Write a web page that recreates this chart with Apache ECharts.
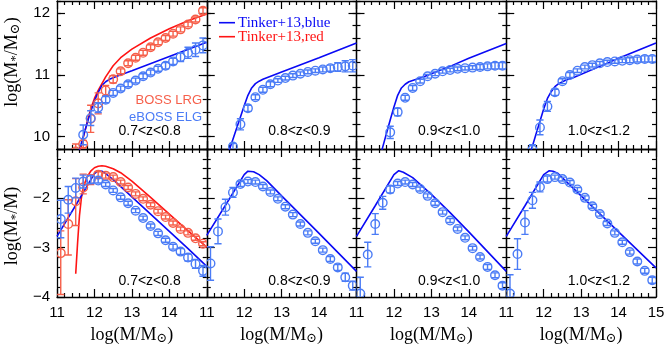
<!DOCTYPE html>
<html><head><meta charset="utf-8">
<script src="https://cdn.jsdelivr.net/npm/echarts@6/dist/echarts.min.js"></script>
<style>html,body{margin:0;padding:0;background:#fff}#c{width:665px;height:345px}</style>
</head><body><div id="c"></div>
<script>
// ---------------- DATA ----------------
const massBins = [11.1,11.3,11.5,11.7,11.9,12.1,12.3,12.5,12.7,12.9,13.1,13.3,13.5,13.7,13.9,14.1,14.3,14.5,14.7,14.9];
const xTicks = [11,12,13,14,15];
const yTicksTop = [10,11,12];
const yTicksBottom = [-4,-3,-2,-1];
const zLabels = ['0.7<z<0.8','0.8<z<0.9','0.9<z<1.0','1.0<z<1.2'];

// top row: log(M*/Msun) vs log(M/Msun)
const elgMstarZ1 = [null,null,null,10.03,10.30,10.47,10.60,10.71,10.78,10.85,10.91,10.98,11.04,11.10,11.15,11.22,11.29,11.36,11.41,11.48];
const elgMstarErrZ1 = [0,0,0,0.16,0.12,0.08,0.05,0.04,0.04,0.04,0.04,0.04,0.04,0.04,0.05,0.05,0.07,0.09,0.11,0.12];
const lrgMstarZ1 = [null,null,9.76,9.88,10.29,10.54,10.75,10.93,11.06,11.19,11.28,11.36,11.45,11.53,11.60,11.67,11.74,11.82,11.90,12.04];
const lrgMstarErrZ1 = [0,0,0.12,0.06,0.22,0.17,0.08,0.06,0.04,0.04,0.04,0.04,0.04,0.04,0.04,0.04,0.04,0.04,0.04,0.05];
const elgMstarZ2 = [null,null,null,9.84,10.20,10.46,10.64,10.76,10.85,10.91,10.95,10.99,11.02,11.05,11.07,11.09,11.11,11.13,11.14,11.15];
const elgMstarErrZ2 = [0,0,0,0.05,0.09,0.05,0.04,0.04,0.04,0.03,0.03,0.03,0.03,0.03,0.03,0.04,0.05,0.07,0.09,0.10];
const elgMstarZ3 = [null,null,null,null,10.07,10.40,10.63,10.79,10.90,10.98,11.02,11.06,11.08,11.10,11.11,11.12,11.13,11.14,11.15,11.15];
const elgMstarErrZ3 = [0,0,0,0,0.10,0.06,0.04,0.04,0.03,0.03,0.03,0.03,0.03,0.03,0.03,0.03,0.04,0.04,0.05,0.05];
const elgMstarZ4 = [null,null,null,9.79,10.15,10.49,10.72,10.90,11.00,11.07,11.13,11.16,11.19,11.21,11.22,11.23,11.24,11.25,11.26,11.26];
const elgMstarErrZ4 = [0,0,0,0.08,0.12,0.08,0.05,0.04,0.04,0.03,0.03,0.03,0.03,0.03,0.03,0.03,0.04,0.04,0.05,0.05];

// bottom row: log(M*/M) vs log(M/Msun)
const elgRatioZ1 = [-2.42,-2.03,-1.79,-1.66,-1.62,-1.64,-1.72,-1.84,-1.98,-2.10,-2.25,-2.40,-2.56,-2.71,-2.85,-2.98,-3.08,-3.20,-3.33,-3.47];
const elgRatioErrZ1 = [0.38,0.27,0.20,0.13,0.08,0.05,0.04,0.04,0.04,0.04,0.04,0.04,0.04,0.04,0.04,0.05,0.06,0.07,0.09,0.11];
const lrgRatioZ1 = [-3.11,-2.52,-2.06,-1.78,-1.62,-1.52,-1.54,-1.57,-1.67,-1.78,-1.91,-2.01,-2.13,-2.26,-2.38,-2.50,-2.62,-2.70,-2.81,-2.92];
const lrgRatioErrHiZ1 = [0.45,0.49,0.46,0.27,0.10,0.06,0.05,0.04,0.04,0.04,0.04,0.04,0.04,0.04,0.04,0.04,0.04,0.04,0.04,0.04];
const lrgRatioErrLoZ1 = [0.84,0.63,0.49,0.13,0.10,0.06,0.05,0.04,0.04,0.04,0.04,0.04,0.04,0.04,0.04,0.04,0.04,0.04,0.04,0.04];
const elgRatioZ2 = [-3.32,-2.67,-2.18,-1.88,-1.71,-1.66,-1.67,-1.76,-1.87,-2.01,-2.17,-2.33,-2.52,-2.70,-2.87,-3.05,-3.23,-3.40,-3.60,-3.77];
const elgRatioErrZ2 = [0.34,0.25,0.16,0.10,0.05,0.04,0.04,0.04,0.04,0.04,0.04,0.04,0.04,0.04,0.04,0.04,0.05,0.06,0.08,0.09];
const elgRatioZ3 = [-3.93,-3.14,-2.52,-2.09,-1.82,-1.70,-1.67,-1.72,-1.81,-1.95,-2.10,-2.28,-2.45,-2.62,-2.80,-3.01,-3.19,-3.39,-3.56,-3.77];
const elgRatioErrZ3 = [0.33,0.25,0.21,0.13,0.07,0.04,0.04,0.04,0.04,0.04,0.04,0.04,0.04,0.04,0.04,0.04,0.04,0.05,0.05,0.06];
const elgRatioZ4 = [-3.93,-3.13,-2.49,-2.04,-1.77,-1.61,-1.57,-1.61,-1.68,-1.82,-1.99,-2.16,-2.32,-2.51,-2.70,-2.89,-3.09,-3.28,-3.47,-3.66];
const elgRatioErrZ4 = [0.38,0.31,0.24,0.16,0.10,0.06,0.04,0.04,0.04,0.04,0.04,0.04,0.04,0.04,0.04,0.04,0.04,0.05,0.05,0.06];

// Tinker+13 model curves
const tinkerBlueMstarX1 = [11.55,11.6,11.7,11.8,11.9,12.0,12.1,12.2,12.3,12.4,12.6,13.0,14.0,15.0];
const tinkerBlueMstarY1 = [9.68,9.79,10.0,10.21,10.41,10.58,10.72,10.83,10.89,10.93,10.98,11.07,11.30,11.53];
const tinkerRedMstarX1 = [11.55,11.6,11.65,11.7,11.8,11.9,12.0,12.1,12.3,12.5,12.7,13.0,13.5,14.0,14.5,15.0];
const tinkerRedMstarY1 = [9.62,9.75,9.85,9.98,10.22,10.45,10.62,10.75,10.97,11.15,11.28,11.42,11.60,11.75,11.88,11.99];
const tinkerBlueMstarX2 = [11.5,11.6,11.7,11.8,11.9,12.0,12.1,12.2,12.3,12.4,12.5,13.0,14.0,15.0];
const tinkerBlueMstarY2 = [9.6,9.78,9.96,10.14,10.32,10.5,10.67,10.79,10.86,10.90,10.93,11.05,11.28,11.52];
const tinkerBlueMstarX3 = [11.6,11.7,11.8,11.9,12.0,12.1,12.2,12.3,12.4,12.6,12.8,13.5,14.0,15.0];
const tinkerBlueMstarY3 = [9.61,9.83,10.05,10.27,10.48,10.67,10.79,10.85,10.89,10.93,10.97,11.14,11.27,11.51];
const tinkerBlueMstarX4 = [11.6,11.7,11.8,11.9,12.0,12.1,12.2,12.3,12.4,12.6,12.8,13.5,14.0,15.0];
const tinkerBlueMstarY4 = [9.65,9.85,10.05,10.25,10.45,10.62,10.73,10.81,10.86,10.92,10.96,11.14,11.27,11.52];

const tinkerBlueRatioX1 = [11.0,11.5,12.0,12.1,12.2,12.3,12.5,13.0,13.5,14.0,14.5,15.0];
const tinkerBlueRatioY1 = [-2.77,-2.14,-1.50,-1.44,-1.45,-1.50,-1.62,-1.97,-2.32,-2.67,-3.02,-3.38];
const tinkerRedRatioX1 = [11.5,11.55,11.6,11.65,11.7,11.8,11.9,12.0,12.1,12.2,12.3,12.5,12.7,13.0,13.5,14.0,14.5,15.0];
const tinkerRedRatioY1 = [-3.53,-2.9,-2.35,-2.0,-1.78,-1.57,-1.45,-1.38,-1.35,-1.34,-1.35,-1.40,-1.48,-1.65,-1.98,-2.32,-2.66,-2.99];
const tinkerBlueRatioX2 = [11.0,11.5,12.0,12.1,12.15,12.25,12.4,12.6,13.0,14.0,15.0];
const tinkerBlueRatioY2 = [-2.75,-2.14,-1.52,-1.45,-1.44,-1.46,-1.52,-1.64,-1.95,-2.71,-3.48];
const tinkerBlueRatioX3 = [11.0,11.5,12.0,12.13,12.25,12.5,13.0,13.5,14.0,14.5,15.0];
const tinkerBlueRatioY3 = [-2.77,-2.15,-1.52,-1.44,-1.47,-1.58,-1.92,-2.29,-2.68,-3.08,-3.48];
const tinkerBlueRatioX4 = [11.0,11.5,12.0,12.15,12.25,12.37,13.0,14.0,15.0];
const tinkerBlueRatioY4 = [-2.77,-2.15,-1.52,-1.44,-1.45,-1.49,-1.95,-2.68,-3.41];

// ---------------- STYLE ----------------
const ELG = '#4b7cf6', LRG = '#f65f4a', BLUE = '#0a0af5', RED = '#ff1414';
const SANS = 'Liberation Sans, Arial, sans-serif';
const SERIF = 'Liberation Serif, DejaVu Serif, serif';
const left0 = 57, panelW = 149.75, rowTop = [1, 149], panelH = 148;

const zip = (xs, ys) => xs.map((x, i) => [x, ys[i]]);
function points(ys, hi, lo) {
  const out = [];
  massBins.forEach((x, i) => { if (ys[i] != null) out.push([x, ys[i], hi[i], (lo || hi)[i]]); });
  return out;
}
const fmt = v => (v < 0 ? '\u2212' + Math.abs(v) : String(v));

function renderErr(params, api) {
  const x = api.value(0), y = api.value(1), hi = api.value(2), lo = api.value(3);
  const c = api.coord([x, y]), t = api.coord([x, y + hi]), b = api.coord([x, y - lo]);
  const color = api.visual('color');
  const st = { stroke: color, lineWidth: 1.4, fill: null };
  const cw = 3.6, cs = params.coordSys;
  return {
    type: 'group',
    clipPath: { type: 'rect', shape: { x: cs.x, y: cs.y, width: cs.width, height: cs.height } },
    children: [
      { type: 'line', shape: { x1: c[0], y1: t[1], x2: c[0], y2: b[1] }, style: st },
      { type: 'line', shape: { x1: c[0] - cw, y1: t[1], x2: c[0] + cw, y2: t[1] }, style: st },
      { type: 'line', shape: { x1: c[0] - cw, y1: b[1], x2: c[0] + cw, y2: b[1] }, style: st },
      { type: 'circle', shape: { cx: c[0], cy: c[1], r: 4.3 }, style: { stroke: color, lineWidth: 1.4, fill: 'rgba(0,0,0,0)' } }
    ]
  };
}

const grids = [], xAxes = [], yAxes = [], series = [], mainX = [], mainY = [];
const lineStyleAx = { color: '#000', width: 1.3 };
const tickStyle = { color: '#000', width: 1.2 };
const labelStyle = { color: '#000', fontFamily: SANS, fontSize: 15 };

for (let r = 0; r < 2; r++) for (let c = 0; c < 4; c++) {
  const g = r * 4 + c;
  grids.push({ left: left0 + c * panelW, top: rowTop[r], width: panelW, height: panelH, containLabel: false, outerBoundsMode: 'none' });
  ['bottom', 'top'].forEach(pos => {
    if (pos === 'bottom') mainX[g] = xAxes.length;
    xAxes.push({
      type: 'value', gridIndex: g, position: pos, min: xTicks[0], max: xTicks[xTicks.length - 1], interval: 1,
      axisLine: { show: true, onZero: false, lineStyle: lineStyleAx },
      axisTick: { show: true, inside: true, length: 8, lineStyle: tickStyle },
      minorTick: { show: true, splitNumber: 5, length: 4, lineStyle: tickStyle },
      splitLine: { show: false }, minorSplitLine: { show: false },
      axisLabel: { show: pos === 'bottom' && r === 1, margin: 8, showMaxLabel: c === 3, formatter: fmt, ...labelStyle }
    });
  });
  ['left', 'right'].forEach(pos => {
    const withLabels = pos === 'left' && c === 0;
    if (r === 0) {
      if (pos === 'left') mainY[g] = yAxes.length;
      yAxes.push({
        type: 'value', gridIndex: g, position: pos, min: 9.8, max: 12.2, interval: 0.2,
        axisLine: { show: true, onZero: false, lineStyle: lineStyleAx },
        axisTick: { show: true, inside: true, length: 4, lineStyle: tickStyle },
        axisLabel: { show: false }, splitLine: { show: false }
      });
      yAxes.push({
        type: 'value', gridIndex: g, position: pos, min: 9.8, max: 12.2,
        axisLine: { show: false },
        axisTick: { show: true, inside: true, length: 8, lineStyle: tickStyle, customValues: yTicksTop },
        axisLabel: { show: withLabels, margin: 7, customValues: yTicksTop, formatter: fmt, ...labelStyle },
        splitLine: { show: false }
      });
    } else {
      if (pos === 'left') mainY[g] = yAxes.length;
      yAxes.push({
        type: 'value', gridIndex: g, position: pos, min: yTicksBottom[0], max: yTicksBottom[yTicksBottom.length - 1], interval: 1,
        axisLine: { show: true, onZero: false, lineStyle: lineStyleAx },
        axisTick: { show: true, inside: true, length: 8, lineStyle: tickStyle },
        minorTick: { show: true, splitNumber: 5, length: 4, lineStyle: tickStyle },
        axisLabel: { show: withLabels, margin: 7, showMaxLabel: false, formatter: fmt, ...labelStyle },
        splitLine: { show: false }, minorSplitLine: { show: false }
      });
    }
  });
}

function addLine(g, name, color, xs, ys) {
  series.push({ type: 'line', name, xAxisIndex: mainX[g], yAxisIndex: mainY[g], data: zip(xs, ys),
    showSymbol: false, symbol: 'none', clip: true, z: 2, silent: true,
    lineStyle: { color, width: 1.6 }, itemStyle: { color } });
}
function addPts(g, name, color, data) {
  series.push({ type: 'custom', name, xAxisIndex: mainX[g], yAxisIndex: mainY[g], data, clip: true, z: 3,
    renderItem: renderErr, itemStyle: { color }, silent: true });
}

// top row
addPts(0, 'BOSS LRG', LRG, points(lrgMstarZ1, lrgMstarErrZ1));
addPts(0, 'eBOSS ELG', ELG, points(elgMstarZ1, elgMstarErrZ1));
addLine(0, 'Tinker+13,red', RED, tinkerRedMstarX1, tinkerRedMstarY1);
addLine(0, 'Tinker+13,blue', BLUE, tinkerBlueMstarX1, tinkerBlueMstarY1);
addPts(1, 'eBOSS ELG', ELG, points(elgMstarZ2, elgMstarErrZ2));
addLine(1, 'Tinker+13,blue', BLUE, tinkerBlueMstarX2, tinkerBlueMstarY2);
addPts(2, 'eBOSS ELG', ELG, points(elgMstarZ3, elgMstarErrZ3));
addLine(2, 'Tinker+13,blue', BLUE, tinkerBlueMstarX3, tinkerBlueMstarY3);
addPts(3, 'eBOSS ELG', ELG, points(elgMstarZ4, elgMstarErrZ4));
addLine(3, 'Tinker+13,blue', BLUE, tinkerBlueMstarX4, tinkerBlueMstarY4);
// bottom row
addPts(4, 'BOSS LRG', LRG, points(lrgRatioZ1, lrgRatioErrHiZ1, lrgRatioErrLoZ1));
addPts(4, 'eBOSS ELG', ELG, points(elgRatioZ1, elgRatioErrZ1));
addLine(4, 'Tinker+13,red', RED, tinkerRedRatioX1, tinkerRedRatioY1);
addLine(4, 'Tinker+13,blue', BLUE, tinkerBlueRatioX1, tinkerBlueRatioY1);
addPts(5, 'eBOSS ELG', ELG, points(elgRatioZ2, elgRatioErrZ2));
addLine(5, 'Tinker+13,blue', BLUE, tinkerBlueRatioX2, tinkerBlueRatioY2);
addPts(6, 'eBOSS ELG', ELG, points(elgRatioZ3, elgRatioErrZ3));
addLine(6, 'Tinker+13,blue', BLUE, tinkerBlueRatioX3, tinkerBlueRatioY3);
addPts(7, 'eBOSS ELG', ELG, points(elgRatioZ4, elgRatioErrZ4));
addLine(7, 'Tinker+13,blue', BLUE, tinkerBlueRatioX4, tinkerBlueRatioY4);

// ---------------- TEXT ----------------
const richTitle = {
  a: { fontFamily: SERIF, fontSize: 18, color: '#000', lineHeight: 21 },
  s: { fontFamily: SERIF, fontSize: 13, color: '#000', lineHeight: 13, padding: [8, 0, 0, 0] }
};
const graphics = [];
for (let c = 0; c < 4; c++) {
  const right = left0 + (c + 1) * panelW;
  graphics.push({ type: 'text', x: right - 26, y: 131.5, style: { text: zLabels[c], font: '14px ' + SANS, fill: '#000', align: 'right', verticalAlign: 'middle' } });
  graphics.push({ type: 'text', x: right - 26, y: 281, style: { text: zLabels[c], font: '14px ' + SANS, fill: '#000', align: 'right', verticalAlign: 'middle' } });
  graphics.push({ type: 'text', x: left0 + c * panelW + panelW / 2, y: 335, style: { text: '{a|log(M/M}{s|\u2299}{a|)}', rich: richTitle, align: 'center', verticalAlign: 'middle' } });
}
graphics.push({ type: 'text', x: 12, y: 62, rotation: Math.PI / 2, style: { text: '{a|log(M}{s|*}{a|/M}{s|\u2299}{a|)}', rich: richTitle, align: 'center', verticalAlign: 'middle' } });
graphics.push({ type: 'text', x: 12, y: 226, rotation: Math.PI / 2, style: { text: '{a|log(M}{s|*}{a|/M)}', rich: richTitle, align: 'center', verticalAlign: 'middle' } });
graphics.push({ type: 'text', x: 202, y: 100, style: { text: 'BOSS LRG', font: '13px ' + SANS, fill: LRG, align: 'right', verticalAlign: 'middle' } });
graphics.push({ type: 'text', x: 202, y: 117, style: { text: 'eBOSS ELG', font: '13px ' + SANS, fill: ELG, align: 'right', verticalAlign: 'middle' } });
// legend for the model curves
graphics.push({ type: 'line', shape: { x1: 219, y1: 22.7, x2: 235, y2: 22.7 }, style: { stroke: BLUE, lineWidth: 1.6 } });
graphics.push({ type: 'text', x: 238, y: 22.7, style: { text: 'Tinker+13,blue', font: '15px ' + SERIF, fill: BLUE, align: 'left', verticalAlign: 'middle' } });
graphics.push({ type: 'line', shape: { x1: 219, y1: 36.7, x2: 235, y2: 36.7 }, style: { stroke: RED, lineWidth: 1.6 } });
graphics.push({ type: 'text', x: 238, y: 36.7, style: { text: 'Tinker+13,red', font: '15px ' + SERIF, fill: RED, align: 'left', verticalAlign: 'middle' } });

const chart = echarts.init(document.getElementById('c'), null, { renderer: 'canvas' });
chart.setOption({
  animation: false,
  backgroundColor: '#fff',
  grid: grids, xAxis: xAxes, yAxis: yAxes, series,
  graphic: graphics
});
</script></body></html>
